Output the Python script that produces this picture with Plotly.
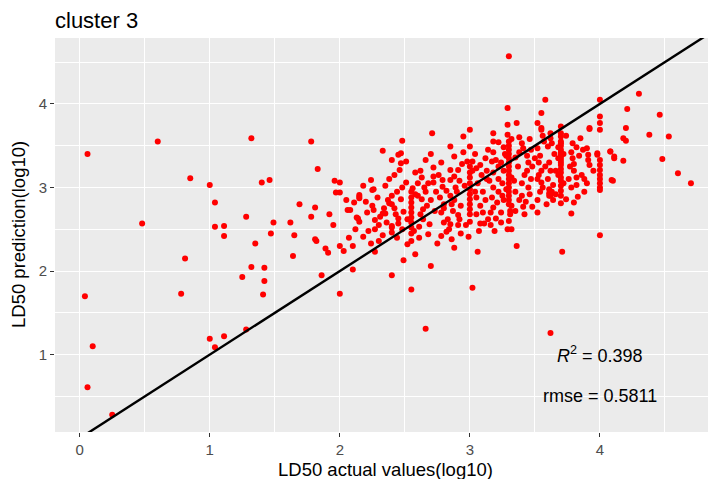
import plotly.graph_objects as go

# ---- data ----
actual_a = [0.06, 0.04, 0.10, 0.06, 0.25, 0.48, 0.60, 0.78, 0.81, 0.85, 1.00, 1.04, 1.00, 1.04, 1.11, 1.04,
            1.11, 1.11, 1.28, 1.32, 1.40, 1.46, 1.49, 1.47, 1.25, 1.32, 1.35, 1.42, 1.42, 1.41, 1.28]
pred_a = [3.40, 1.70, 1.10, 0.61, 0.28, 2.57, 3.55, 1.73, 2.15, 3.11, 3.03, 2.82, 1.19, 1.09, 1.22, 2.53,
          2.54, 2.42, 2.65, 3.59, 3.06, 3.09, 2.58, 2.45, 1.93, 2.05, 2.33, 2.04, 1.88, 1.72, 1.30]

actual_b = [1.62, 1.65, 1.78, 1.83, 1.69, 1.81, 1.78, 1.92, 1.96, 2.00, 1.97, 2.00, 2.06, 2.08, 2.13, 2.07,
            2.11, 2.15, 1.81, 1.64, 1.82, 1.89, 1.91, 2.00, 2.03, 2.10, 2.10, 1.86, 2.00, 2.14, 2.15, 2.15,
            2.15, 2.18, 2.18]
pred_b = [2.58, 2.43, 3.55, 3.22, 2.80, 2.76, 2.65, 2.68, 3.08, 3.06, 2.94, 2.94, 2.73, 2.73, 2.64, 2.40,
          2.82, 2.89, 2.38, 2.18, 2.36, 2.27, 2.22, 2.30, 2.24, 2.30, 2.02, 1.95, 1.73, 2.63, 2.59, 2.91,
          2.87, 3.02, 2.41]

actual_c = [2.24, 2.26, 2.25, 2.25, 2.26, 2.31, 2.33, 2.35, 2.24, 2.27, 2.27, 2.27, 2.33, 2.33, 2.40, 2.45,
            2.37, 2.38, 2.40, 2.40, 2.40, 2.40, 2.40, 2.45, 2.45, 2.40, 2.48, 2.47, 2.47, 2.46, 2.49, 2.49,
            2.42, 2.44, 2.48, 2.36, 2.30, 2.22, 2.43, 2.47, 2.21, 2.29, 2.35, 2.44, 2.48]
pred_c = [3.09, 2.98, 2.97, 2.78, 2.73, 2.65, 2.69, 2.69, 2.33, 2.23, 2.50, 2.61, 2.43, 3.44, 3.33, 3.39,
          2.85, 2.81, 2.90, 2.80, 2.46, 2.52, 2.54, 2.63, 2.57, 1.95, 3.56, 3.41, 3.29, 3.21, 2.13, 2.71,
          2.75, 2.95, 3.00, 2.58, 2.55, 2.48, 2.68, 2.86, 2.70, 2.88, 3.02, 2.40, 2.50]

actual_d = [2.55, 2.58, 2.55, 2.55, 2.55, 2.55, 2.55, 2.55, 2.55, 2.55, 2.55, 2.55, 2.51, 2.56, 2.51, 2.61,
            2.66, 2.63, 2.68, 2.70, 2.66, 2.62, 2.60, 2.64, 2.67, 2.61, 2.71, 2.72, 2.72, 2.72, 2.58, 2.65,
            2.70, 2.74, 2.69, 2.73, 2.52, 2.57, 2.63, 2.68]
pred_d = [1.78, 2.20, 2.36, 2.45, 2.52, 2.58, 2.64, 2.70, 2.76, 2.82, 2.88, 2.95, 3.06, 2.99, 3.31, 2.53,
          3.33, 3.12, 2.44, 2.06, 1.31, 2.68, 2.90, 2.62, 2.78, 2.40, 3.65, 3.24, 3.13, 3.06, 3.18, 3.00,
          2.85, 2.95, 2.56, 2.72, 2.62, 2.48, 2.86, 3.05]

actual_e = [2.75, 2.79, 2.85, 2.79, 2.85, 2.88, 2.85, 2.91, 2.88, 2.82, 2.85, 2.91, 2.91, 2.88, 2.80, 2.85,
            2.90, 2.78, 2.83, 2.88, 2.80, 2.89, 2.78, 2.84, 2.93, 2.77, 2.82, 2.92, 2.87, 2.93]
pred_e = [2.33, 3.09, 3.09, 3.01, 3.49, 3.37, 3.21, 3.21, 3.13, 2.47, 2.56, 2.55, 2.67, 2.28, 2.80, 2.90,
          2.95, 2.70, 2.62, 2.85, 2.75, 3.00, 2.42, 2.50, 2.78, 2.88, 2.96, 3.08, 2.72, 2.45]

actual_f = [2.95, 3.00, 2.95, 3.00, 2.98, 3.02, 3.00, 3.00, 3.00, 3.00, 3.00, 3.00, 3.00, 3.00, 3.00, 3.00,
            3.00, 2.99, 3.06, 3.02, 3.08, 3.11, 3.05, 3.02, 3.05, 3.08, 3.09, 3.06, 3.10, 3.12, 3.08, 3.13,
            3.05, 3.12, 3.04, 3.10, 3.14, 2.97, 3.07, 3.13]
pred_f = [3.61, 3.69, 3.42, 3.49, 3.31, 3.31, 3.25, 3.18, 3.12, 3.05, 2.98, 2.92, 2.86, 2.80, 2.74, 2.68,
          2.59, 2.41, 2.23, 1.80, 2.57, 2.57, 2.68, 3.20, 3.23, 3.27, 3.15, 3.05, 2.95, 2.85, 2.78, 3.10,
          2.88, 3.35, 3.40, 2.70, 2.62, 2.55, 2.48, 3.20]

actual_g = [3.18, 3.18, 3.22, 3.18, 3.20, 3.17, 3.22, 3.18, 3.22, 3.18, 3.22, 3.17, 3.21, 3.18, 3.24, 3.20,
            3.16, 3.25, 3.25, 3.26, 3.15, 3.27, 3.24, 3.19, 3.26]
pred_g = [3.65, 3.55, 3.54, 3.42, 3.33, 3.31, 3.25, 3.18, 3.10, 3.00, 2.95, 2.88, 2.82, 2.76, 2.70, 2.63,
          2.55, 2.90, 3.05, 3.20, 3.08, 3.40, 2.58, 2.48, 3.48]

actual_h = [3.30, 3.29, 3.29, 3.29, 3.30, 3.30, 3.30, 3.30, 3.30, 3.30, 3.30, 3.30, 3.30, 3.30, 3.30, 3.30,
            3.30, 3.30, 3.30, 3.30, 3.31, 3.31, 3.30, 3.32, 3.29, 3.32, 3.28, 3.32, 3.28, 3.32]
pred_h = [4.57, 3.95, 3.75, 3.63, 3.55, 3.50, 3.45, 3.40, 3.35, 3.30, 3.25, 3.20, 3.15, 3.10, 3.05, 3.00,
          2.95, 2.90, 2.85, 2.80, 2.72, 2.68, 2.60, 2.50, 2.50, 3.58, 3.38, 3.12, 2.98, 2.78]

actual_i = [3.36, 3.40, 3.41, 3.38, 3.36, 3.35, 3.41, 3.38, 3.45, 3.44, 3.47, 3.45, 3.40, 3.48, 3.42, 3.37,
            3.35, 3.44, 3.40, 3.46, 3.35, 3.48, 3.43, 3.38, 3.47]
pred_i = [3.77, 3.53, 3.47, 3.42, 2.30, 2.72, 2.77, 2.85, 3.30, 3.20, 3.10, 3.00, 2.90, 2.77, 3.15, 3.25,
          3.36, 3.38, 3.05, 2.92, 2.95, 3.25, 2.83, 3.60, 3.45]

actual_j = [3.58, 3.55, 3.52, 3.55, 3.55, 3.52, 3.54, 3.53, 3.55, 3.52, 3.55, 3.54, 3.52, 3.56, 3.53, 3.62,
            3.62, 3.63, 3.60, 3.61, 3.62, 3.60, 3.64, 3.61, 3.62, 3.64, 3.61, 3.65, 3.62, 3.61, 3.66, 3.63,
            3.58, 3.59, 3.57]
pred_j = [4.05, 3.89, 3.77, 3.71, 3.69, 3.47, 3.38, 3.30, 3.20, 3.10, 3.06, 2.95, 2.85, 3.00, 3.15, 3.65,
          3.59, 3.53, 3.49, 3.30, 3.20, 3.10, 3.03, 2.98, 2.90, 2.85, 2.93, 3.40, 1.26, 2.90, 2.92, 2.95,
          3.25, 2.80, 3.55]

actual_k = [3.70, 3.70, 3.70, 3.70, 3.70, 3.70, 3.70, 3.70, 3.70, 3.70, 3.70, 3.70, 3.70, 3.70, 3.70, 3.70,
            3.70, 3.70, 3.70, 3.70, 3.70, 3.71, 3.68, 3.72, 3.68, 3.72, 3.68]
pred_k = [3.73, 3.65, 3.61, 3.55, 3.53, 3.50, 3.45, 3.42, 3.39, 3.36, 3.33, 3.30, 3.27, 3.22, 3.18, 3.12,
          3.08, 3.02, 2.96, 2.90, 2.81, 2.23, 3.35, 3.40, 3.15, 3.05, 3.48]

actual_l = [3.85, 3.79, 3.78, 3.79, 3.80, 3.80, 3.82, 3.82, 3.83, 3.80, 3.78, 3.78, 3.92, 3.92, 3.90, 3.91,
            3.91, 3.92, 3.88, 3.90, 3.77, 3.86, 3.84, 3.76, 3.87]
pred_l = [3.59, 3.53, 3.42, 3.35, 3.28, 3.20, 3.12, 3.03, 2.89, 2.82, 2.69, 3.00, 3.70, 3.71, 3.47, 3.39,
          3.33, 3.27, 3.10, 3.05, 3.25, 3.15, 3.38, 3.10, 3.45]

actual_m = [4.00, 4.00, 4.00, 4.00, 3.98, 4.00, 4.00, 4.00, 4.00, 4.00, 4.00, 4.00, 4.00, 4.00, 3.98]
pred_m = [4.05, 3.85, 3.77, 3.69, 3.39, 3.33, 3.27, 3.21, 3.15, 3.10, 3.05, 3.00, 2.97, 2.43, 3.41]

actual_n = [4.30, 4.21, 4.46, 4.38, 4.53, 4.20, 4.18, 4.20, 4.48, 4.60, 4.70, 4.18, 4.10, 4.11, 4.08, 4.11,
            4.09, 4.08]
pred_n = [4.12, 3.94, 3.87, 3.63, 3.61, 3.71, 3.59, 3.56, 3.34, 3.17, 3.05, 3.32, 3.08, 3.35, 3.43, 3.37,
          3.09, 3.43]

actual_o = [2.52, 2.58, 2.62, 2.66, 2.76, 2.80, 2.86, 2.92, 2.94, 2.78, 2.70, 2.60, 2.64, 2.86, 2.96, 3.04,
            3.16, 3.14, 3.24, 3.26, 3.34, 3.42, 3.46, 3.50, 3.52, 3.56, 3.66, 3.74, 3.74, 3.82, 3.95, 3.88,
            2.34, 2.38, 2.20, 2.42, 2.30, 2.12, 1.95, 2.05]
pred_o = [2.32, 2.92, 3.20, 2.95, 3.15, 2.58, 2.38, 2.62, 3.28, 3.30, 3.40, 3.05, 2.74, 2.80, 3.02, 2.95,
          2.70, 3.45, 3.30, 2.85, 3.08, 2.68, 3.58, 3.35, 2.70, 3.62, 3.20, 3.62, 2.86, 3.48, 3.20, 2.95,
          2.75, 3.10, 2.83, 3.15, 2.36, 2.50, 2.55, 2.85]

abline_slope = 1.0
abline_intercept = 0.0
r2_text = "<i>R</i><sup>2</sup> = 0.398"
rmse_text = "rmse = 0.5811"
x_title = "LD50 actual values(log10)"
y_title = "LD50 prediction(log10)"
chart_title = "cluster 3"
x_range = [-0.19, 4.885]
y_range = [0.075, 4.788]
tick_vals = [0, 1, 2, 3, 4]

actual = (actual_a + actual_b + actual_c + actual_d + actual_e + actual_f + actual_g + actual_h
          + actual_i + actual_j + actual_k + actual_l + actual_m + actual_n + actual_o)
pred = (pred_a + pred_b + pred_c + pred_d + pred_e + pred_f + pred_g + pred_h
        + pred_i + pred_j + pred_k + pred_l + pred_m + pred_n + pred_o)
assert len(actual) == len(pred)

FONT = "Liberation Sans, Arial, sans-serif"

# the page body adds an 8px offset, so the figure is 8px smaller than the window
FIG_W, FIG_H = 708, 471

fig = go.Figure()
fig.add_trace(go.Scatter(
    x=actual, y=pred, mode="markers",
    marker=dict(color="#FF0000", size=6, line=dict(width=0)),
    cliponaxis=True, showlegend=False, hoverinfo="x+y"))

line_x = [x_range[0], x_range[1]]
line_y = [abline_intercept + abline_slope * v for v in line_x]
fig.add_trace(go.Scatter(
    x=line_x, y=line_y, mode="lines",
    line=dict(color="black", width=2.4), showlegend=False, hoverinfo="skip"))

fig.add_annotation(x=4.0, y=1.0, xref="x", yref="y", text=r2_text, showarrow=False,
                   font=dict(family=FONT, size=18, color="black"), xanchor="center", yanchor="middle")
fig.add_annotation(x=4.0, y=0.5, xref="x", yref="y", text=rmse_text, showarrow=False,
                   font=dict(family=FONT, size=18, color="black"), xanchor="center", yanchor="middle")

# axis titles as paper-anchored annotations for exact placement
fig.add_annotation(x=0.5, y=0, xref="paper", yref="paper", text=x_title, showarrow=False,
                   font=dict(family=FONT, size=18.5, color="black"),
                   xanchor="center", yanchor="middle", yshift=-37)
fig.add_annotation(x=0, y=0.5, xref="paper", yref="paper", text=y_title, showarrow=False,
                   font=dict(family=FONT, size=18.5, color="black"), textangle=-90,
                   xanchor="center", yanchor="middle", xshift=-37)

axis_common = dict(
    showgrid=True, gridcolor="white", gridwidth=1.3,
    zeroline=False, showline=False, automargin=False,
    ticks="outside", ticklen=4, tickwidth=1, tickcolor="#333333",
    tickfont=dict(family=FONT, size=15, color="#4D4D4D"),
    tickvals=tick_vals,
    minor=dict(dtick=0.5, tick0=0.5, showgrid=True, gridcolor="white", gridwidth=0.6, ticks=""),
)

fig.update_layout(
    width=FIG_W, height=FIG_H,
    margin=dict(l=47, r=1, t=30, b=47, autoexpand=False),
    paper_bgcolor="white", plot_bgcolor="#EBEBEB",
    font=dict(family=FONT, color="black"),
    title=dict(text=chart_title, font=dict(family=FONT, size=22, color="black"),
               xref="paper", x=0, xanchor="left", yref="container", y=1 - 12.5 / FIG_H, yanchor="middle"),
    xaxis=dict(range=x_range, **axis_common),
    yaxis=dict(range=y_range, **axis_common),
)

fig.write_html("out.html")
